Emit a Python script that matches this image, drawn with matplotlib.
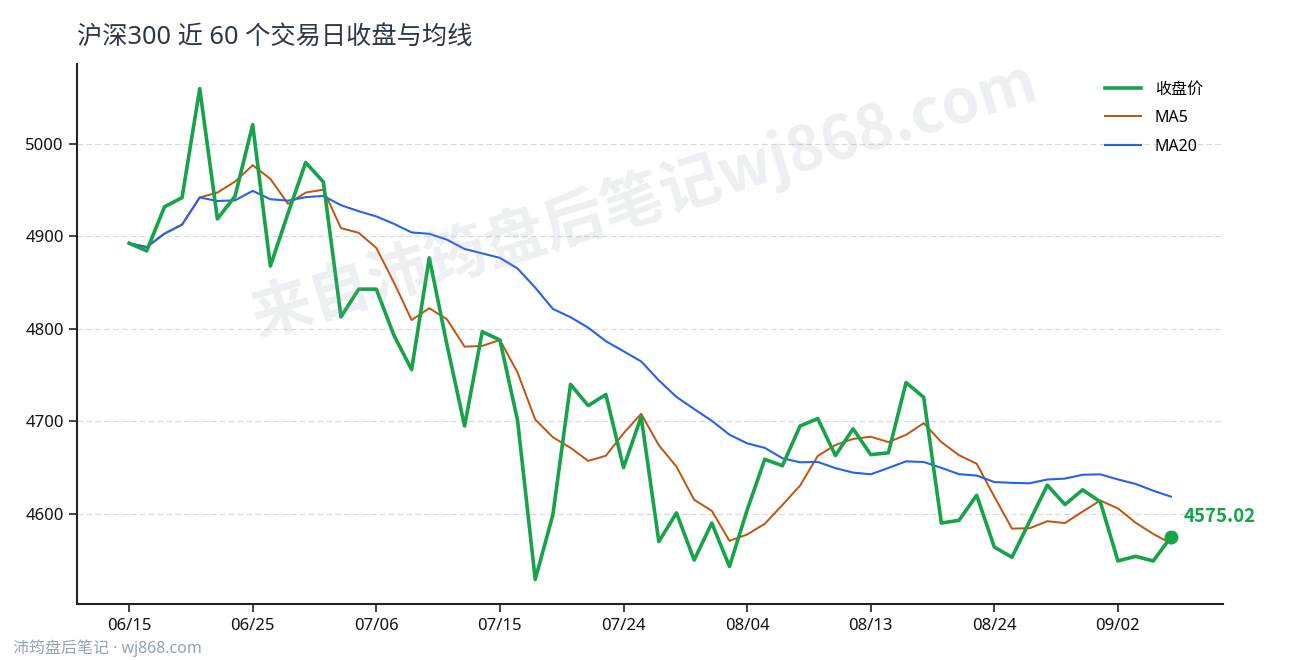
import matplotlib
matplotlib.use("Agg")
import matplotlib.pyplot as plt
import pandas as pd
import numpy as np

plt.rcParams['font.family'] = ['Noto Sans', 'Noto Sans CJK SC', 'DejaVu Sans']
BOLD_FAMILY = ['Noto Sans CJK SC', 'DejaVu Sans']

dates = ["06/15", "06/16", "06/17", "06/18", "06/22", "06/23", "06/24", "06/25", "06/26", "06/29",
         "06/30", "07/01", "07/02", "07/03", "07/06", "07/07", "07/08", "07/09", "07/10", "07/13",
         "07/14", "07/15", "07/16", "07/17", "07/20", "07/21", "07/22", "07/23", "07/24", "07/27",
         "07/28", "07/29", "07/30", "07/31", "08/03", "08/04", "08/05", "08/06", "08/07", "08/10",
         "08/11", "08/12", "08/13", "08/14", "08/17", "08/18", "08/19", "08/20", "08/21", "08/24",
         "08/25", "08/26", "08/27", "08/28", "08/31", "09/01", "09/02", "09/03", "09/04", "09/07"]

close = [4892.7, 4884.4, 4932.0, 4942.0, 5060.0, 4919.0, 4943.5, 5020.9, 4868.0, 4925.0,
         4980.0, 4959.0, 4813.0, 4843.0, 4843.0, 4793.0, 4756.0, 4877.0, 4783.0, 4695.0,
         4797.0, 4788.0, 4701.0, 4529.0, 4599.0, 4740.0, 4717.0, 4729.0, 4650.0, 4705.0,
         4570.0, 4601.0, 4550.0, 4590.0, 4543.0, 4604.0, 4659.0, 4652.0, 4695.0, 4703.0,
         4663.0, 4692.0, 4664.0, 4666.0, 4742.0, 4726.0, 4590.0, 4593.0, 4620.0, 4564.0,
         4553.0, 4592.0, 4631.0, 4610.0, 4626.0, 4613.0, 4549.0, 4554.0, 4549.0, 4575.02]

series_labels = ["收盘价", "MA5", "MA20"]
tick_step = 7

s = pd.Series(close)
ma5 = s.rolling(5, min_periods=1).mean()
ma20 = s.rolling(20, min_periods=1).mean()
x = np.arange(len(close))

fig = plt.figure(figsize=(12.9, 6.6), dpi=100)
ax = fig.add_axes([77/1290, 1-604/660, (1223-77)/1290, (604-64)/660])

# watermark
fig.text(0.499, 0.697, "来自沛筠盘后笔记wj868.com", fontsize=44, fontweight='bold',
         family=BOLD_FAMILY, color='#94a3b8', alpha=0.17, rotation=17,
         ha='center', va='center', zorder=0)

ax.plot(x, close, color='#16a34a', lw=2.6, label=series_labels[0], zorder=4)
ax.plot(x, ma5, color='#c2520c', lw=1.4, label=series_labels[1], zorder=3)
ax.plot(x, ma20, color='#2563eb', lw=1.5, label=series_labels[2], zorder=3)

ax.plot([x[-1]], [close[-1]], 'o', color='#16a34a', ms=9, zorder=5)
ax.annotate(f"{close[-1]:.2f}", (x[-1], close[-1]), xytext=(9, 14.5), textcoords='offset points',
            color='#16a34a', fontsize=13.5, fontweight='bold', family=BOLD_FAMILY,
            va='center', ha='left')

ax.set_xticks(x[::tick_step])
ax.set_xticklabels([dates[i] for i in x[::tick_step]])
ax.set_yticks([4600, 4700, 4800, 4900, 5000])
ax.tick_params(axis='both', labelsize=12, length=6, width=1.2, color='#222222', labelcolor='#111111')
ax.tick_params(axis='x', pad=4)

for sp in ['top', 'right']:
    ax.spines[sp].set_visible(False)
for sp in ['left', 'bottom']:
    ax.spines[sp].set_color('#222222')
    ax.spines[sp].set_linewidth(1.5)

ax.grid(axis='y', color='#d9d9d9', linestyle='--', linewidth=0.8, dashes=(5, 3))
ax.set_axisbelow(True)
ax.patch.set_alpha(0)

leg = ax.legend(loc='upper right', frameon=False, fontsize=11.5, handlelength=2.3,
                bbox_to_anchor=(0.995, 0.994), labelspacing=0.78, handletextpad=0.85)

fig.text(77/1290, 1-37/660, "沪深300 近 60 个交易日收盘与均线", fontsize=18.2, color='#2d3748',
         ha='left', va='center')
fig.text(13/1290, 1-648/660, "沛筠盘后笔记 · wj868.com", fontsize=11.5, color='#94a3b8',
         ha='left', va='center')

fig.savefig("out.png", dpi=100)
